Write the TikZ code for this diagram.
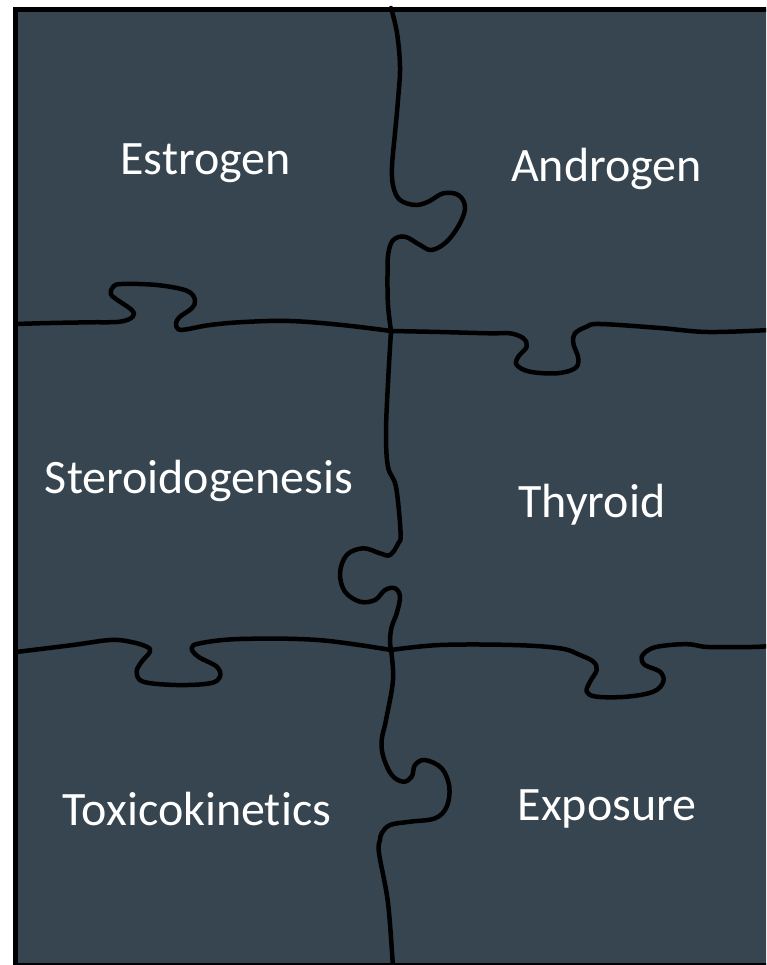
\documentclass[tikz,border=0pt]{standalone}
\usepackage{fontspec}
\setmainfont{Carlito}[Ligatures={NoCommon,NoRare,NoContextual}]
\definecolor{slate}{RGB}{54,69,79}
\begin{document}
\begin{tikzpicture}[x=1pt,y=-1pt,
  cut/.style={line width=4.5pt, line cap=round, line join=round},
  lbl/.style={text=white, font=\fontsize{48}{56}\selectfont, anchor=base, inner sep=0pt}]
\useasboundingbox (0,0) rectangle (766,965);
\clip (0,0) rectangle (766,965);
\filldraw[fill=slate, draw=black, line width=5pt] (15.5,9.5) rectangle (775,965.5);
% vertical line 1
\draw[cut] plot[smooth, tension=0.6] coordinates {(391,8) (397,33) (400,67) (398,100) (395,133) (392,167) (393.3,186.7) (400,200) (415,205) (428.3,201.7) (443.3,193.3) (458.3,195) (465,206.7) (460,223.3) (446.7,241.7) (431.7,250) (420,245) (405,236.7) (393.3,240) (388.3,253.3) (387.5,275) (388,305) (391,331)};
% horizontal line 1 left
\draw[cut] plot[smooth, tension=0.6] coordinates {(16,324) (50,323) (90,322.3) (120,321.7) (132.7,316.7) (131.7,310) (115,298.3) (110.7,293.3) (113.3,286.7) (121.7,284) (156.7,285) (186.7,290.7) (195,300) (191.7,308.3) (180,316.7) (176,323.3) (178.3,329.3) (186.7,329.3) (210,325) (244,322) (290,321) (342,325) (391,331)};
% horizontal line 1 right
\draw[cut] plot[smooth, tension=0.6] coordinates {(391,331) (440,332) (490,333.3) (510,333.3) (523.3,338.3) (526.7,346.7) (518.3,356.7) (516.7,365) (530,371.7) (556.7,373.3) (575,368.3) (578.3,358.3) (573.3,343.3) (575,333.3) (586.7,326.7) (600,324) (660,328) (708,332) (770,330)};
% vertical line 2
\draw[cut] plot[smooth, tension=0.6] coordinates {(391,331) (388,383) (386,433) (388,467) (396,487) (400.6,533) (398.3,543.3) (390,555) (380,553.3) (363.3,548.3) (346.7,555) (340,573.3) (345,591.7) (360,601.7) (375,600) (385,590) (395,588.3) (400,596.7) (396.7,613.3) (391.7,626.7) (390,640) (391,650)};
% horizontal line 2 left
\draw[cut] plot[smooth, tension=0.6] coordinates {(16,652) (73,645) (110,640) (130,641.7) (146.7,646.7) (150,651.7) (141.7,661.7) (136.7,671.7) (143.3,681.7) (176.7,685) (210,683.3) (220,676.7) (216.7,666.7) (198.3,656.7) (191.7,648.3) (200,643.3) (240,639) (318,640) (391,650)};
% horizontal line 2 right
\draw[cut] plot[smooth, tension=0.6] coordinates {(391,650) (440,645) (513,645) (560,648.3) (580,655) (593.3,661.7) (596.7,670) (590,681.7) (586.7,691.7) (596.7,696.7) (626.7,696.7) (653.3,691.7) (663.3,681.7) (660,671.7) (645,665) (641.7,656.7) (651.7,648.3) (670,645) (690,644.3) (708,647) (752,647) (770,646)};
% vertical line 3
\draw[cut] plot[smooth, tension=0.6] coordinates {(391,650) (393,680) (386,720) (381.7,740) (383.3,756.7) (391.7,775) (403.3,781.7) (411.7,776.7) (415,765) (425,760) (441.7,768.3) (449.3,786.7) (446.7,806.7) (435,818.3) (410,821.7) (390,825) (381.7,833.3) (380,840) (379,853) (388,903) (393,968)};
% labels
\node[lbl] (estrogen) at (205.5,175) {Estrogen};
\node[lbl] (androgen) at (606.5,182) {Androgen};
\node[lbl] (steroid) at (199,493) {Steroidogenesis};
\node[lbl] (thyroid) at (592,517) {Thyroid};
\node[lbl] (toxico) at (197,825) {Toxicokinetics};
\node[lbl] (exposure) at (607,820) {Exposure};
\end{tikzpicture}
\end{document}
